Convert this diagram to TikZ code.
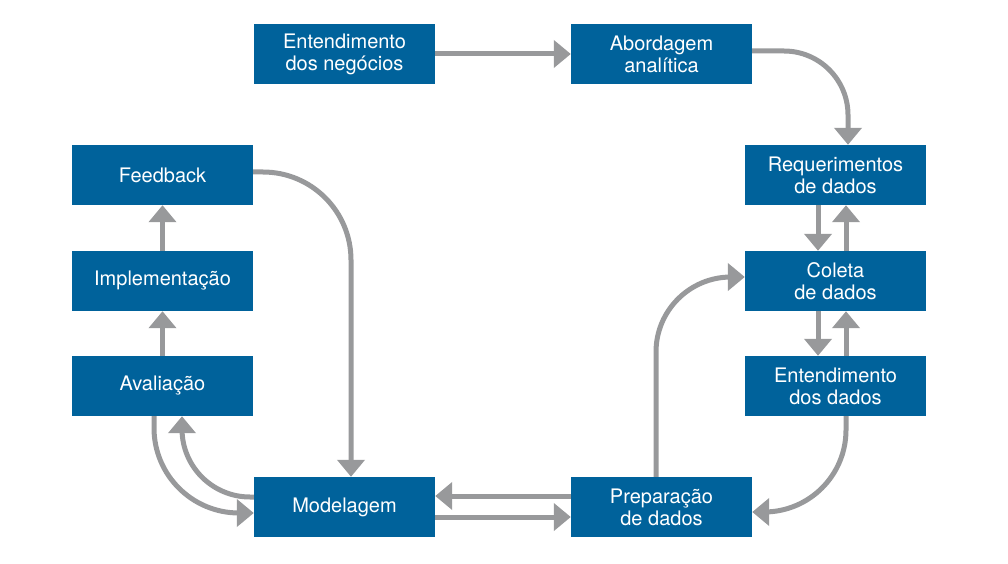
\documentclass[tikz,border=0pt]{standalone}
\usepackage{fontspec}
\setmainfont{TeX Gyre Heros}
\usetikzlibrary{arrows.meta}
\definecolor{boxblue}{RGB}{0,98,155}
\definecolor{arrgray}{RGB}{152,153,155}
\tikzset{
  stage/.style={fill=boxblue, text=white, minimum width=181pt, minimum height=60pt,
    inner sep=0pt, align=center, font=\fontsize{20}{22}\selectfont},
  arr/.style={draw=arrgray, line width=5pt,
    -{Triangle[width=27pt,length=17pt]}},
}
\begin{document}
\begin{tikzpicture}[x=1pt,y=-1pt]
\useasboundingbox (0,0) rectangle (1008,564);
\node[stage] (neg) at (344.5,54) {Entendimento\\dos negócios};
\node[stage] (abo) at (661.5,54) {Abordagem\\analítica};
\node[stage] (req) at (835.5,175) {Requerimentos\\de dados};
\node[stage] (col) at (835.5,281) {Coleta\\de dados};
\node[stage] (ent) at (835.5,386) {Entendimento\\dos dados};
\node[stage] (pre) at (661.5,507) {Preparação\\de dados};
\node[stage] (mod) at (344.5,507) {Modelagem};
\node[stage] (fee) at (162.5,175) {Feedback};
\node[stage] (imp) at (162.5,281) {Implementação};
\node[stage] (ava) at (162.5,386) {Avaliação};

\draw[arr] (neg) -- (abo);
\draw[arr, rounded corners=64pt] ([yshift=3pt]abo.east) -| ([xshift=12.5pt]req.north);
\draw[arr] ([xshift=-17.5pt]req.south) -- ([xshift=-17.5pt]col.north);
\draw[arr] ([xshift=10.5pt]col.north) -- ([xshift=10.5pt]req.south);
\draw[arr] ([xshift=-17.5pt]col.south) -- ([xshift=-17.5pt]ent.north);
\draw[arr] ([xshift=10.5pt]ent.north) -- ([xshift=10.5pt]col.south);
\draw[arr, rounded corners=82pt] ([xshift=10.5pt]ent.south) |- ([yshift=-5pt]pre.east);
\draw[arr, rounded corners=75pt] ([xshift=-5.5pt]pre.north) |- ([yshift=4pt]col.west);
\draw[arr] ([yshift=11pt]pre.west) -- ([yshift=11pt]mod.east);
\draw[arr] ([yshift=-10pt]mod.east) -- ([yshift=-10pt]pre.west);
\draw[arr, rounded corners=88pt] ([yshift=3pt]fee.east) -| ([xshift=6.5pt]mod.north);
\draw[arr, rounded corners=85pt] ([xshift=-8.5pt]ava.south) |- ([yshift=-6pt]mod.west);
\draw[arr, rounded corners=68pt] ([yshift=10pt]mod.west) -| ([xshift=19.5pt]ava.south);
\draw[arr] (ava) -- (imp);
\draw[arr] (imp) -- (fee);
\end{tikzpicture}
\end{document}
